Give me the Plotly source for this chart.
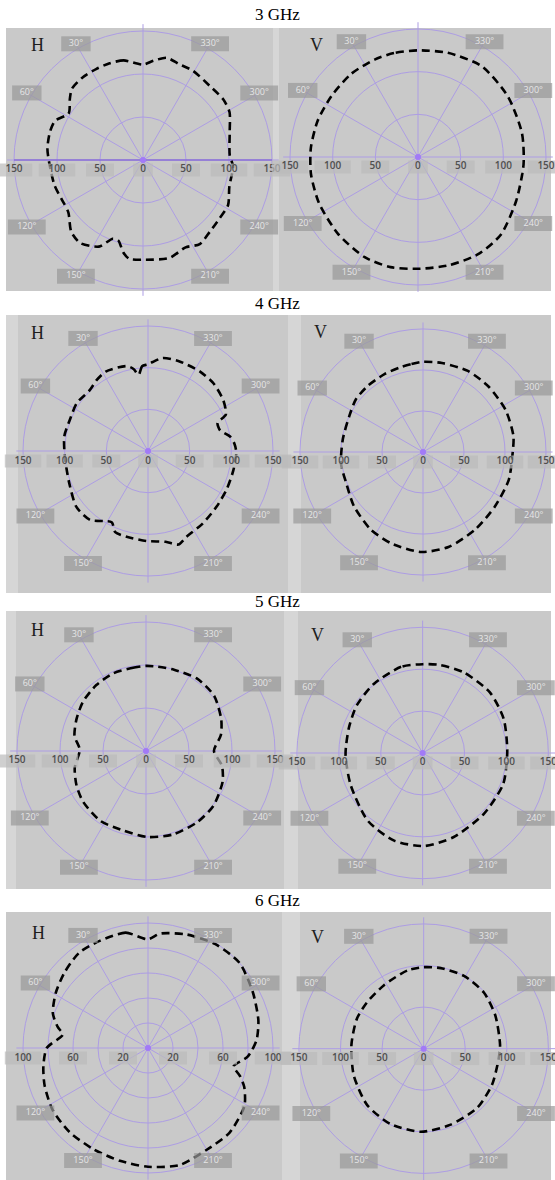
import math
import plotly.graph_objects as go

# ---------------- data ----------------
freq_titles = ["3 GHz", "4 GHz", "5 GHz", "6 GHz"]
pol_tags = ["H", "V"]

angle_ticks = [30, 60, 120, 150, 210, 240, 300, 330]
angle_labels = ["30°", "60°", "120°", "150°", "210°", "240°", "300°", "330°"]

radial_labels_150 = [150, 100, 50]
radial_labels_100 = [100, 60, 20]
radial_grid_150 = [50, 100, 150]
radial_grid_100 = [20, 40, 60, 80, 100]

theta_3h = [0, 11, 19, 27, 36, 45, 50, 58, 66, 73, 83, 92, 106, 116, 125, 135, 143, 153, 159,
            163, 168, 172, 180, 195, 206, 214, 223, 232, 242, 253, 266, 273, 288, 299, 307,
            318, 331, 339, 347, 354]
r_3h = [111, 118, 119, 119, 119, 117, 111, 102, 112, 113, 112, 109, 107, 105, 106, 118, 121,
        113, 98, 98, 110, 116, 116, 118, 113, 118, 114, 112, 112, 105, 105, 101, 106, 115, 117,
        116, 119, 119, 122, 116]

theta_3v = [0, 13, 24, 39, 55, 70, 85, 99, 115, 134, 152, 166, 180, 196, 212, 227, 246, 266,
            283, 304, 325, 344]
r_3v = [125, 125, 125, 125, 124, 125, 126, 127, 128, 130, 133, 133, 131, 132, 134, 133, 126,
        124, 125, 127, 130, 127]

theta_4h = [0, 4, 7, 10, 14, 28, 36, 44, 56, 68, 80, 94, 112, 128, 140, 153, 158, 166, 179,
            191, 198, 204, 217, 231, 244, 257, 269, 275, 280, 286, 292, 295, 304, 316, 327,
            341, 351, 357]
r_4h = [104, 102, 92, 100, 105, 108, 105, 101, 103, 101, 102, 100, 102, 109, 108, 96, 105, 106,
        108, 111, 118, 113, 109, 106, 105, 105, 106, 104, 100, 90, 90, 103, 109, 113, 114, 114,
        113, 107]

theta_4v = [0, 8, 15, 26, 40, 52, 64, 81, 98, 112, 128, 146, 161, 179, 195, 214, 233, 252,
            267, 280, 297, 315, 331, 348]
r_4v = [110, 108, 107, 106, 105, 104, 100, 99, 101, 101, 107, 114, 118, 122, 120, 114, 110,
        110, 109, 112, 113, 113, 113, 111]

theta_5h = [0, 8, 23, 37, 52, 65, 78, 89, 103, 116, 129, 147, 162, 181, 198, 216, 231, 248,
            259, 270, 282, 293, 309, 325, 341, 352]
r_5h = [99, 98, 98, 96, 93, 89, 85, 77, 85, 90, 94, 97, 96, 100, 102, 102, 101, 96, 90, 79,
        89, 95, 102, 103, 100, 99]

theta_5v = [0, 14, 35, 54, 71, 91, 114, 141, 162, 181, 200, 225, 249, 271, 293, 312, 333, 349]
r_5v = [106, 106, 101, 97, 93, 92, 94, 104, 110, 111, 107, 103, 103, 101, 105, 108, 108, 107]

theta_6h = [0, 11, 24, 36, 48, 59, 70, 77, 81, 90, 100, 110, 123, 137, 152, 166, 180, 195,
            210, 224, 239, 248, 253, 258, 265, 274, 284, 298, 313, 327, 341, 354]
r_6h = [87, 94, 94, 94, 90, 86, 81, 74, 69, 81, 85, 88, 91, 92, 92, 93, 95, 97, 94, 94, 90,
        83, 77, 70, 80, 87, 91, 95, 100, 99, 96, 92]

theta_6v = [0, 12, 32, 51, 66, 87, 111, 135, 156, 178, 199, 222, 242, 262, 273, 295, 313, 331,
            348]
r_6v = [98, 96, 90, 88, 88, 87, 90, 96, 99, 100, 97, 96, 93, 91, 92, 95, 99, 100, 99]

# ---------------- layout / style ----------------
W, H = 555, 1180
GRID = "#ad9de4"
PANEL = "#c9c9c9"
STRIP = "#d6d6d6"
BOX = "#9a9a9a"
RBOX = "#bcbcbc"
EXT = 1.053  # axis range extends a little past the outer circle so the labels show


def px_x(x):
    return x / W


def px_y(y):
    return 1 - y / H


panels = [
    dict(theta=theta_3h, r=r_3h, rmax=150, cx=143, cy=160, R=129, tag="H", axis_line=True),
    dict(theta=theta_3v, r=r_3v, rmax=150, cx=418, cy=157, R=128, tag="V"),
    dict(theta=theta_4h, r=r_4h, rmax=150, cx=148, cy=451, R=125, tag="H"),
    dict(theta=theta_4v, r=r_4v, rmax=150, cx=423, cy=452, R=123, tag="V"),
    dict(theta=theta_5h, r=r_5h, rmax=150, cx=146, cy=751, R=129, tag="H"),
    dict(theta=theta_5v, r=r_5v, rmax=150, cx=424, cy=753, R=127, tag="V"),
    dict(theta=theta_6h, r=r_6h, rmax=100, cx=148, cy=1048, R=125, tag="H"),
    dict(theta=theta_6v, r=r_6v, rmax=150, cx=425, cy=1050, R=126, tag="V"),
]

tag_pos = [(37, 45), (316, 45), (37, 333), (320, 332), (37, 630), (317, 635), (38, 933), (317, 937)]
title_y = [14, 303, 601, 900]

row_bounds = [(28, 291), (315, 593), (611, 889), (912, 1180)]
panel_x = [[(6, 273), (279, 551)], [(18, 288), (301, 551)], [(16, 284), (298, 551)],
           [(6, 282), (300, 551)]]

fig = go.Figure()
shapes = []
annotations = []

for ri, (y0, y1) in enumerate(row_bounds):
    shapes.append(dict(type="rect", xref="paper", yref="paper", x0=px_x(6), x1=px_x(551),
                       y0=px_y(y1), y1=px_y(y0), fillcolor=STRIP, line=dict(width=0),
                       layer="below"))
    for (x0, x1) in panel_x[ri]:
        shapes.append(dict(type="rect", xref="paper", yref="paper", x0=px_x(x0), x1=px_x(x1),
                           y0=px_y(y1), y1=px_y(y0), fillcolor=PANEL, line=dict(width=0),
                           layer="below"))
    annotations.append(dict(text=freq_titles[ri], x=0.5, y=px_y(title_y[ri]), xref="paper",
                            yref="paper", showarrow=False, xanchor="center", yanchor="middle",
                            font=dict(family="Liberation Serif", size=17, color="black")))

layout_polars = {}
for i, p in enumerate(panels):
    key = "polar" if i == 0 else f"polar{i + 1}"
    cx, cy, R, rmax = p["cx"], p["cy"], p["R"], p["rmax"]
    Rd = R * EXT
    grid_vals = radial_grid_100 if rmax == 100 else radial_grid_150
    y_lo = max(0.0, px_y(cy + Rd))
    layout_polars[key] = dict(
        domain=dict(x=[px_x(cx - Rd), min(1.0, px_x(cx + Rd))], y=[y_lo, px_y(cy - Rd)]),
        bgcolor="rgba(0,0,0,0)",
        radialaxis=dict(range=[0, rmax * EXT], tickmode="array", tickvals=grid_vals,
                        showticklabels=False, ticks="", showline=False,
                        gridcolor=GRID, gridwidth=1),
        angularaxis=dict(rotation=90, direction="counterclockwise", tickmode="linear",
                         tick0=0, dtick=30, showticklabels=False, ticks="",
                         showline=False, gridcolor=GRID, gridwidth=1),
    )

    if p.get("axis_line"):
        fig.add_trace(go.Scatterpolar(r=[rmax, 0, rmax], theta=[90, 90, 270], mode="lines",
                                      line=dict(color="#8a6fd6", width=1.6), subplot=key,
                                      hoverinfo="skip", showlegend=False))

    fig.add_trace(go.Scatterpolar(r=[0], theta=[0], mode="markers",
                                  marker=dict(size=6, color="#a27af7"), subplot=key,
                                  hoverinfo="skip", showlegend=False))

    th = list(p["theta"]) + [p["theta"][0] + 360]
    rr = list(p["r"]) + [p["r"][0]]
    fig.add_trace(go.Scatterpolar(r=rr, theta=th, mode="lines",
                                  line=dict(color="black", width=2.6, dash="8px,5px",
                                            shape="spline", smoothing=0.7),
                                  subplot=key, hoverinfo="skip", showlegend=False))

    # angle labels in boxes
    rlab = rmax * 1.04
    sizes = [21 if len(t) <= 3 else 27 for t in angle_labels]
    fig.add_trace(go.Scatterpolar(
        r=[rlab] * len(angle_ticks), theta=angle_ticks, mode="markers+text",
        text=angle_labels, textposition="middle center",
        textfont=dict(family="Open Sans", size=9, color="#e6e6e6"),
        marker=dict(symbol="line-ew", size=sizes, color=BOX, line=dict(color=BOX, width=15)),
        cliponaxis=False, subplot=key, hoverinfo="skip", showlegend=False))

    # radial tick labels under the horizontal axis
    d = 10 * rmax / R
    vals = radial_labels_100 if rmax == 100 else radial_labels_150
    rl, tl, tx = [], [], []
    for v in vals:
        rl.append(math.hypot(v, d))
        tl.append(90 + math.degrees(math.atan2(d, v)))
        tx.append(str(v))
    if rmax == 150:
        rl.append(d)
        tl.append(180)
        tx.append("0")
    for v in reversed(vals):
        rl.append(math.hypot(v, d))
        tl.append(270 - math.degrees(math.atan2(d, v)))
        tx.append(str(v))
    rsz = [8 + 6 * len(t) for t in tx]
    fig.add_trace(go.Scatterpolar(
        r=rl, theta=tl, mode="markers+text", text=tx, textposition="middle center",
        textfont=dict(family="Open Sans", size=10, color="#4f4f4f", weight=600),
        marker=dict(symbol="line-ew", size=rsz, color=RBOX, line=dict(color=RBOX, width=13)),
        cliponaxis=False, subplot=key, hoverinfo="skip", showlegend=False))

    tx_, ty_ = tag_pos[i]
    annotations.append(dict(text=p["tag"], x=px_x(tx_), y=px_y(ty_), xref="paper",
                            yref="paper", showarrow=False, xanchor="center", yanchor="middle",
                            font=dict(family="Liberation Serif", size=18, color="#1e1e1e")))

fig.update_layout(
    width=W, height=H, margin=dict(l=0, r=0, t=0, b=0),
    paper_bgcolor="white", plot_bgcolor="white",
    showlegend=False, shapes=shapes, annotations=annotations,
    **layout_polars,
)

fig.write_html("out.html", config={"displayModeBar": False},
               post_script="document.body.style.margin='0px';")
